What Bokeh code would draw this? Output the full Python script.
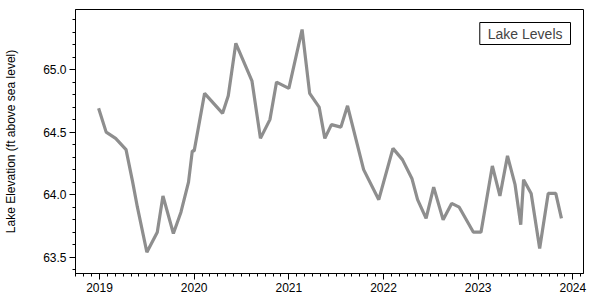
from bokeh.plotting import figure
from bokeh.models import SingleIntervalTicker, Range1d, Label, NumeralTickFormatter
from bokeh.embed import file_html
from bokeh.resources import INLINE

# decimal year of each reading
year = [2018.99, 2019.07, 2019.17, 2019.28, 2019.35, 2019.40, 2019.50, 2019.61,
        2019.67, 2019.78, 2019.86, 2019.94, 2019.98, 2020.00, 2020.11, 2020.30,
        2020.36, 2020.44, 2020.61, 2020.70, 2020.80, 2020.87, 2021.00, 2021.14,
        2021.22, 2021.32, 2021.38, 2021.45, 2021.55, 2021.62, 2021.79, 2021.95,
        2022.10, 2022.20, 2022.30, 2022.36, 2022.45, 2022.53, 2022.63, 2022.72,
        2022.80, 2022.95, 2023.03, 2023.15, 2023.23, 2023.31, 2023.39, 2023.45,
        2023.48, 2023.56, 2023.65, 2023.74, 2023.82, 2023.88]
# lake elevation, ft above sea level
level = [64.69, 64.50, 64.45, 64.36, 64.10, 63.90, 63.54, 63.70,
         63.99, 63.69, 63.86, 64.10, 64.35, 64.35, 64.81, 64.65,
         64.79, 65.21, 64.91, 64.45, 64.60, 64.90, 64.85, 65.32,
         64.81, 64.70, 64.45, 64.56, 64.54, 64.71, 64.20, 63.96,
         64.37, 64.28, 64.13, 63.96, 63.81, 64.06, 63.80, 63.93,
         63.90, 63.70, 63.70, 64.23, 63.99, 64.31, 64.08, 63.76,
         64.12, 64.01, 63.57, 64.01, 64.01, 63.81]

FONT = "Liberation Sans"

p = figure(width=600, height=300, output_backend="svg", toolbar_location=None,
           x_range=Range1d(2018.746, 2024.113), y_range=Range1d(63.37, 65.48),
           min_border_left=75, min_border_right=17, min_border_top=9, min_border_bottom=27)
p.background_fill_color = "white"
p.border_fill_color = "white"
p.outline_line_color = "black"
p.outline_line_width = 1
p.grid.visible = False

p.line(year, level, line_color="#8e8e8e", line_width=3.2)

p.xaxis.ticker = SingleIntervalTicker(interval=1, num_minor_ticks=12)
p.yaxis.ticker = SingleIntervalTicker(interval=0.5, num_minor_ticks=5)
p.yaxis.formatter = NumeralTickFormatter(format="0.0")
p.xaxis.formatter = NumeralTickFormatter(format="0")

for ax in (p.xaxis[0], p.yaxis[0]):
    ax.axis_line_color = "black"
    ax.major_tick_line_color = "black"
    ax.minor_tick_line_color = "black"
    ax.major_tick_out = 6
    ax.major_tick_in = 0
    ax.minor_tick_out = 3
    ax.minor_tick_in = 0
    ax.major_label_text_font = FONT
    ax.major_label_text_font_size = "12px"
    ax.major_label_text_color = "black"
    ax.major_label_standoff = 3
    ax.axis_label_text_font = FONT
    ax.axis_label_text_font_size = "12px"
    ax.axis_label_text_font_style = "normal"
    ax.axis_label_text_color = "black"

p.yaxis.axis_label = "Lake Elevation (ft above sea level)"
p.yaxis.axis_label_standoff = 22

p.add_layout(Label(x=495, y=251, x_units="screen", y_units="screen",
                   text="Lake Levels", text_font=FONT, text_font_size="14px",
                   anchor="top_right",
                   border_line_color="black", border_line_width=1,
                   background_fill_color="white", padding=(8, 3)))

open("out.html", "w").write(file_html(p, INLINE))
